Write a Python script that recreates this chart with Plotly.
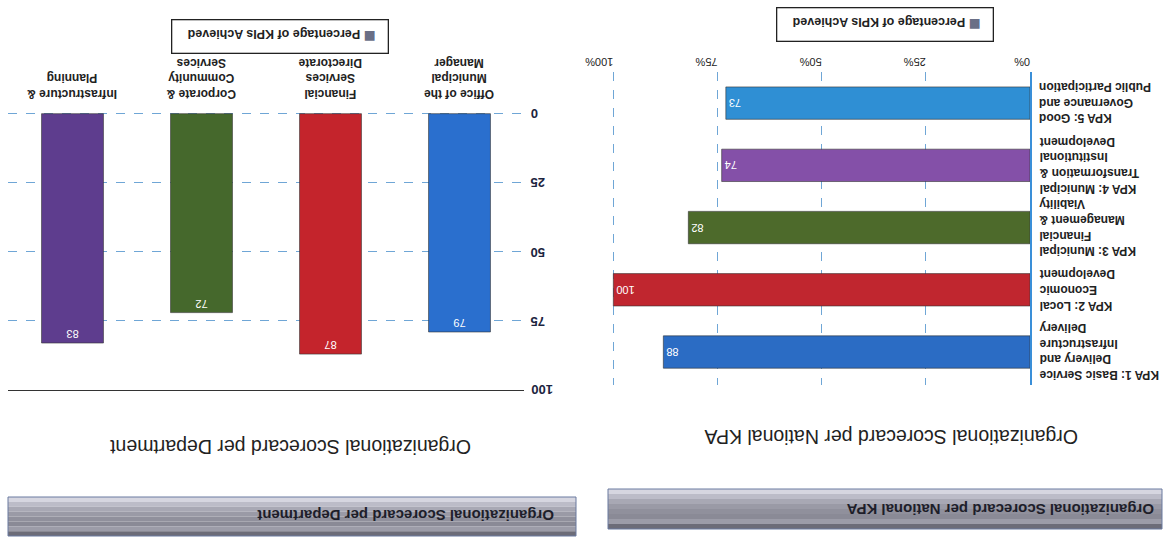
import plotly.graph_objects as go

# ---------------- data ----------------
kpa_categories = ["KPA 1", "KPA 2", "KPA 3", "KPA 4", "KPA 5"]
kpa_labels = [
    "KPA 1: Basic Service<br>Delivery and<br>Infrastructure<br>Delivery",
    "KPA 2: Local<br>Economic<br>Development",
    "KPA 3: Municipal<br>Financial<br>Management &<br>Viability",
    "KPA 4: Municipal<br>Transformation &<br>Institutional<br>Development",
    "KPA 5: Good<br>Governance and<br>Public Participation",
]
kpa_values = [88, 100, 82, 74, 73]
kpa_colors = ["#2b6cc4", "#c0262f", "#4d6a2b", "#8450a8", "#2f8fd4"]

dept_categories = ["Office of the Municipal Manager", "Financial Services Directorate",
                   "Corporate & Community Services", "Infrastructure & Planning"]
dept_labels = ["Office of the<br>Municipal<br>Manager", "Financial<br>Services<br>Directorate",
               "Corporate &<br>Community<br>Services", "Infrastructure &<br>Planning"]
dept_values = [79, 87, 72, 83]
dept_colors = ["#2a6fce", "#c4242c", "#45682c", "#5e3d8e"]

pct_ticks = [0, 25, 50, 75, 100]
pct_tick_labels = ["0%", "25%", "50%", "75%", "100%"]
num_tick_labels = ["0", "25", "50", "75", "100"]

legend_text = "Percentage of KPIs Achieved"
kpa_title = "Organizational Scorecard per National KPA"
dept_title = "Organizational Scorecard per Department"

W, H = 1168, 547
FONT = "Liberation Sans, Arial, sans-serif"


def px(x):
    return x / W


def py(y):
    return 1 - y / H


fig = go.Figure()

# Department chart (left, vertical bars)
fig.add_trace(go.Bar(
    x=dept_categories, y=dept_values, marker=dict(color=dept_colors, line=dict(color="#333", width=0.6)),
    width=0.48, text=[str(v) for v in dept_values], textposition="inside",
    insidetextanchor="end", textangle=180, constraintext="none",
    textfont=dict(color="white", size=11, family=FONT),
    xaxis="x", yaxis="y", showlegend=False, hoverinfo="x+y"))

# KPA chart (right, horizontal bars)
fig.add_trace(go.Bar(
    y=kpa_categories, x=kpa_values, orientation="h",
    marker=dict(color=kpa_colors, line=dict(color="#333", width=0.6)),
    width=0.52, text=[str(v) for v in kpa_values], textposition="inside",
    insidetextanchor="end", textangle=180, constraintext="none",
    textfont=dict(color="white", size=11, family=FONT),
    xaxis="x2", yaxis="y2", showlegend=False, hoverinfo="x+y"))

grid_blue = "#6fa6d6"

layout = dict(
    width=W, height=H, autosize=False,
    margin=dict(l=0, r=0, t=0, b=0, pad=0, autoexpand=False),
    paper_bgcolor="white", plot_bgcolor="white",
    font=dict(family=FONT, color="#222"),
    # left chart axes
    xaxis=dict(domain=[px(8), px(524)], type="category", categoryorder="array",
               categoryarray=dept_categories, range=[3.5, -0.5], automargin=False,
               showticklabels=False, showgrid=False, zeroline=False,
               showline=True, linecolor="#333", linewidth=1, anchor="y"),
    yaxis=dict(domain=[py(390), py(112)], range=[100, -0.6], side="right", automargin=False,
               tickvals=pct_ticks, showticklabels=False, ticks="",
               showgrid=True, gridcolor=grid_blue, griddash="dash", gridwidth=1,
               zeroline=False, showline=False, anchor="x"),
    # right chart axes
    xaxis2=dict(domain=[px(605), px(1030)], range=[102, 0], side="top", automargin=False,
                tickvals=pct_ticks, ticktext=pct_tick_labels, tickangle=180,
                tickfont=dict(size=11, color="#222", family=FONT),
                showgrid=True, gridcolor=grid_blue, griddash="dash", gridwidth=1,
                zeroline=False, showline=False, anchor="y2", ticks=""),
    yaxis2=dict(domain=[py(385), py(72)], type="category", categoryorder="array",
                categoryarray=kpa_categories, range=[-0.53, 4.5], side="right", automargin=False,
                showticklabels=False, showgrid=False, zeroline=False,
                showline=True, linecolor="#3a8fd8", linewidth=1.5, anchor="x2"),
)

annotations = []
# Left chart value-axis labels (turned like the page)
for v, lab in zip(pct_ticks, num_tick_labels):
    annotations.append(dict(xref="paper", yref="y", x=px(529), y=v, text="<b>" + lab + "</b>",
                            xanchor="left", yanchor="middle", textangle=180, showarrow=False,
                            font=dict(size=13, color="#1c2440", family=FONT)))
# KPA category labels
for cat, lab in zip(kpa_categories, kpa_labels):
    annotations.append(dict(xref="paper", yref="y2", x=px(1037), y=cat, text="<b>" + lab + "</b>",
                            xanchor="left", yanchor="middle", align="right", textangle=180,
                            showarrow=False, font=dict(size=12, color="#222", family=FONT)))
# Department category labels
for cat, lab in zip(dept_categories, dept_labels):
    annotations.append(dict(xref="x", yref="paper", x=cat, y=py(103), text="<b>" + lab + "</b>",
                            xanchor="center", yanchor="bottom", align="center", textangle=180,
                            showarrow=False, font=dict(size=12, color="#222", family=FONT)))

# Legends (drawn as boxed annotations so they can be turned like the page)
swatch = "<span style='color:#6a6f86;font-size:20px'>■</span>"
for cx, cy in [(885, 25), (280, 37)]:
    annotations.append(dict(xref="paper", yref="paper", x=px(cx), y=py(cy),
                            xanchor="center", yanchor="middle",
                            text="<b>  " + swatch + " " + legend_text + "   </b>", textangle=180,
                            showarrow=False, bordercolor="#222", borderwidth=1.3, borderpad=5,
                            font=dict(size=12.5, color="#222", family=FONT)))

# Chart titles
annotations.append(dict(xref="paper", yref="paper", x=px(891), y=py(437), text=kpa_title,
                        xanchor="center", yanchor="middle", textangle=180, showarrow=False,
                        font=dict(size=19.5, color="#222", family=FONT)))
annotations.append(dict(xref="paper", yref="paper", x=px(290), y=py(447), text=dept_title,
                        xanchor="center", yanchor="middle", textangle=180, showarrow=False,
                        font=dict(size=19.5, color="#222", family=FONT)))

# Header bars
shapes = []
stripe_colors = ["#d6d6e0", "#bcbcc8", "#a8a8b4", "#9a9aa6", "#90909c", "#8a8a96", "#9c9ca8", "#6c6c78"]


def header(x0, x1, y0, y1):
    n = len(stripe_colors)
    h = (y1 - y0) / n
    for i, c in enumerate(stripe_colors):
        shapes.append(dict(type="rect", xref="paper", yref="paper",
                           x0=px(x0), x1=px(x1), y0=py(y0 + i * h), y1=py(y0 + (i + 1) * h),
                           fillcolor=c, line=dict(width=0), layer="below"))
    shapes.append(dict(type="rect", xref="paper", yref="paper",
                       x0=px(x0), x1=px(x1), y0=py(y0), y1=py(y1),
                       fillcolor="rgba(0,0,0,0)", line=dict(color="#6a7aa0", width=1)))


header(608, 1162, 489, 529)
header(8, 576, 497, 536)

annotations.append(dict(xref="paper", yref="paper", x=px(1156), y=py(510), text="<b>" + kpa_title + "</b>",
                        textangle=180, showarrow=False, xanchor="right", yanchor="middle",
                        font=dict(size=15, color="#1e1e2a", family=FONT)))
annotations.append(dict(xref="paper", yref="paper", x=px(556), y=py(516), text="<b>" + dept_title + "</b>",
                        textangle=180, showarrow=False, xanchor="right", yanchor="middle",
                        font=dict(size=15, color="#1e1e2a", family=FONT)))

layout["annotations"] = annotations
layout["shapes"] = shapes
fig.update_layout(**layout)

fig.write_html("out.html", config={"displayModeBar": False},
               post_script="document.body.style.margin='0';document.body.style.overflow='hidden';")
